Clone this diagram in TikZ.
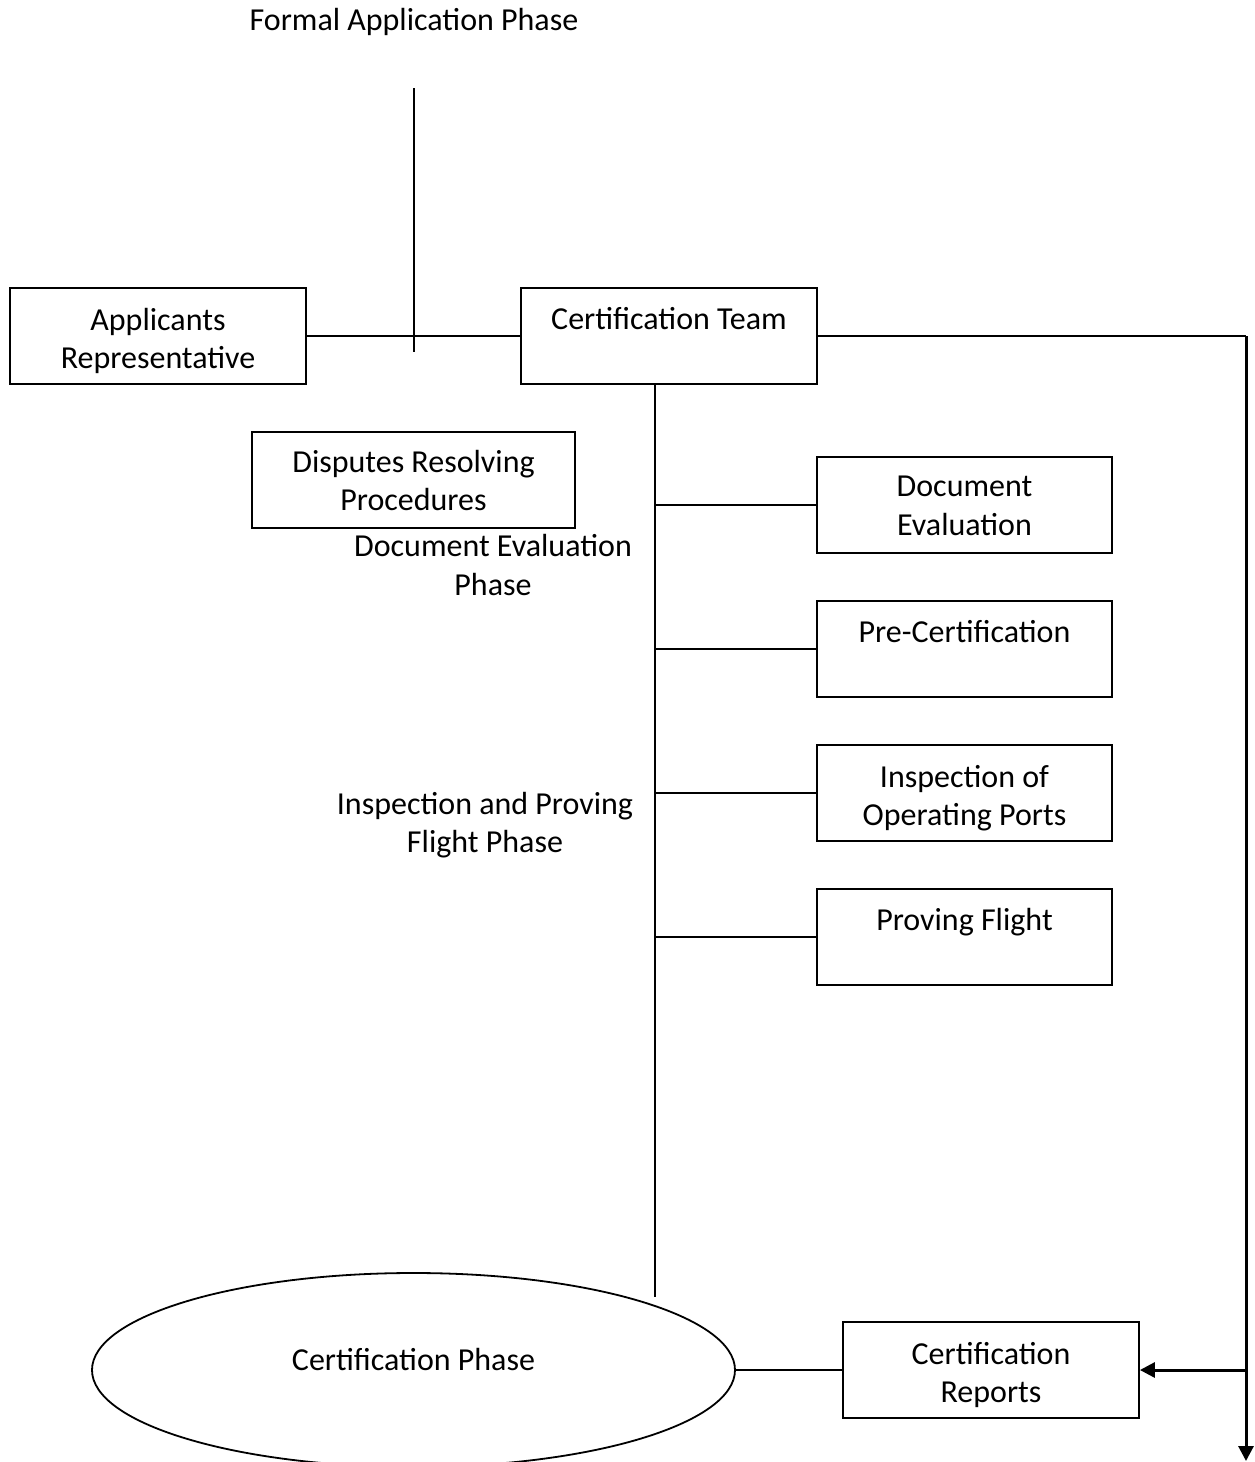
\documentclass[tikz,border=0pt]{standalone}
\usepackage{fontspec}
\setmainfont{Carlito}
\usetikzlibrary{shapes.geometric,arrows.meta}
\newcommand\Tl[1]{\rule{0pt}{#1}}
\newcommand\Bl{\rule[-11.55pt]{0pt}{0pt}}
\begin{document}
\begin{tikzpicture}[x=1pt,y=1pt,
  every node/.style={font=\fontsize{32}{38.5}\selectfont, align=center, inner sep=0pt},
  box/.style={draw, line width=1.8pt, minimum width=296pt, minimum height=96pt},
  conn/.style={line width=1.5pt},
  bigarrow/.style={line width=3pt, -{Triangle[length=15pt,width=15pt]}}
]
\useasboundingbox (0,0) rectangle (1254,-1462);
\clip (0,0) rectangle (1254,-1462);

\node (title) at (414,-22) {Formal Application Phase};
\node[box] (app) at (158,-336) {\Tl{39pt}Applicants\\Representative\Bl};
\node[box] (team) at (669,-336) {Certification Team\\[-4pt]~};
\node[box, minimum width=323pt] (disp) at (413.5,-480) {\Tl{35pt}Disputes Resolving\\Procedures\Bl};
\node (docphase) at (493,-565) {Document Evaluation\\Phase};
\node (insphase) at (485,-825) {Inspection and Proving\\Flight Phase};
\node[box, minimum width=295pt] (doc) at (964.5,-505) {\Tl{34pt}Document\\Evaluation\Bl};
\node[box, minimum width=295pt] (pre) at (964.5,-649) {Pre-Certification\\[-4pt]~};
\node[box, minimum width=295pt] (insp) at (964.5,-793) {\Tl{39pt}Inspection of\\Operating Ports\Bl};
\node[box, minimum width=295pt] (prov) at (964.5,-937) {Proving Flight\\[-4pt]~};
\node[box, minimum width=296pt] (rep) at (991,-1370) {\Tl{39pt}Certification\\Reports\Bl};
\node[draw, ellipse, line width=1.8pt, minimum width=643pt, minimum height=194pt, align=none, text height=20pt, text depth=20pt] (cphase) at (413.5,-1370) {Certification Phase};

\coordinate (vtop) at (414,-88);
\coordinate (vbot) at (414,-352);
\coordinate (trunkbot) at (655,-1297);
\coordinate (corner) at (1246,-336);
\coordinate (junct) at (1246,-1370);
\coordinate (arrend) at (1246,-1461);

\draw[conn] (vtop) -- (vbot);
\draw[conn] (app.east) -- (team.west);
\draw[conn] (team.south -| trunkbot) -- (trunkbot);
\draw[conn] (doc.west -| trunkbot) -- (doc.west);
\draw[conn] (pre.west -| trunkbot) -- (pre.west);
\draw[conn] (insp.west -| trunkbot) -- (insp.west);
\draw[conn] (prov.west -| trunkbot) -- (prov.west);
\draw[conn] (cphase.east) -- (rep.west);
\draw[conn] (team.east) -- (corner);
\draw[bigarrow] (corner) -- (arrend);
\draw[bigarrow] (junct) -- (rep.east);
\end{tikzpicture}
\end{document}
